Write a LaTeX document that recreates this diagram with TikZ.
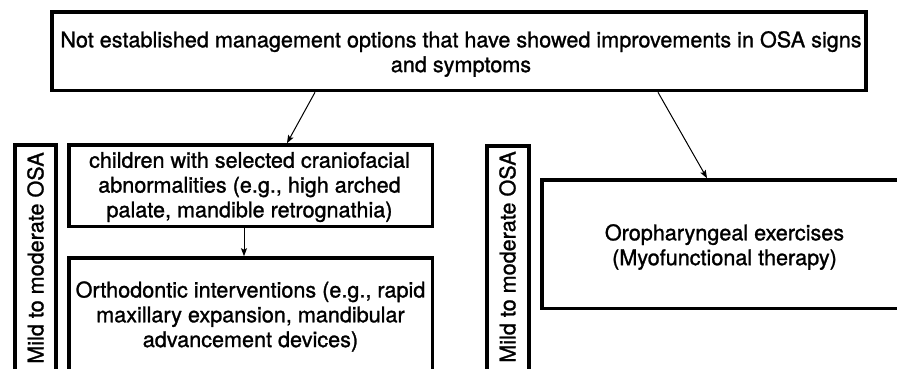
\documentclass[tikz,border=0pt]{standalone}
\usepackage{fontspec}
\setmainfont{TeX Gyre Heros}[FakeBold=1.2]
\usetikzlibrary{arrows.meta}
\begin{document}
\begin{tikzpicture}[x=1pt,y=-1pt,
  box/.style={draw=black, line width=3.6pt, rectangle, inner sep=0pt},
  txt/.style={align=center, inner sep=0pt, font=\fontsize{21.6}{24.8}\selectfont},
  arr/.style={-{Stealth[length=8pt,width=6pt,inset=1.5pt]}, line width=1pt}]
\useasboundingbox (0,0) rectangle (897,368);
\clip (0,0) rectangle (897,368);
% boxes
\node[box, minimum width=814pt, minimum height=78.5pt] (top) at (459,51.25) {};
\node[box, minimum width=41pt, minimum height=227pt] (vbox1) at (35.75,258.5) {};
\node[box, minimum width=42pt, minimum height=226pt] (vbox2) at (508,259) {};
\node[box, minimum width=363.5pt, minimum height=81.5pt] (child) at (250.75,185.75) {};
\node[box, minimum width=363.5pt, minimum height=132pt] (ortho) at (250.75,324) {};
\node[box, minimum width=368pt, minimum height=128.5pt] (oro) at (726,244.25) {};
% texts
\node[txt] (toptext) at (461,54) {Not established management options that have showed improvements in OSA signs\\and symptoms};
\node[txt, rotate=90] (v1text) at (35.5,258) {Mild to moderate OSA};
\node[txt, rotate=90] (v2text) at (507.5,257) {Mild to moderate OSA};
\node[txt] (childtext) at (249.5,187) {children with selected craniofacial\\abnormalities (e.g., high arched\\palate, mandible retrognathia)};
\node[txt] (orthotext) at (250.5,316.5) {Orthodontic interventions (e.g., rapid\\maxillary expansion, mandibular\\advancement devices)};
\node[txt] (orotext) at (724.5,247) {Oropharyngeal exercises\\(Myofunctional therapy)};
% connectors
\draw[arr] ([xshift=-144pt]top.south) -- ([xshift=36.25pt]child.north);
\draw[arr] ([xshift=-6.75pt]child.south) -- ([xshift=-6.75pt]ortho.north);
\draw[arr] ([xshift=199pt]top.south) -- ([xshift=-19pt]oro.north);
\end{tikzpicture}
\end{document}
